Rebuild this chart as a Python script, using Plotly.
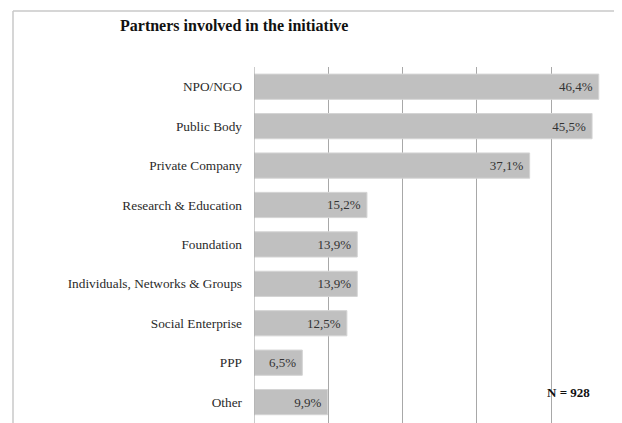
import plotly.graph_objects as go

categories = ["NPO/NGO", "Public Body", "Private Company", "Research & Education",
              "Foundation", "Individuals, Networks & Groups", "Social Enterprise", "PPP", "Other"]
values = [46.4, 45.5, 37.1, 15.2, 13.9, 13.9, 12.5, 6.5, 9.9]
labels = [f"{v:.1f}%".replace(".", ",") + "&nbsp;" for v in values]
grid_ticks = [0, 10, 20, 30, 40]

OFF = 8  # page body margin
W, H = 622 - OFF, 423 - OFF
px = lambda x: (x - OFF) / W
py = lambda y: 1 - (y - OFF) / H

serif = "Liberation Serif, Times New Roman, serif"

fig = go.Figure(go.Bar(
    x=values, y=categories, orientation="h",
    text=labels, textposition="inside", insidetextanchor="end",
    textfont=dict(family=serif, size=13, color="#333333"),
    marker=dict(color="#c0c0c0", line=dict(color="#d4d4d4", width=1)),
    width=0.64, cliponaxis=False,
))

fig.update_layout(
    width=W, height=H,
    margin=dict(l=0, r=0, t=0, b=0),
    paper_bgcolor="white", plot_bgcolor="white",
    showlegend=False,
    xaxis=dict(domain=[px(254), 1], range=[0, (622 - 254) / 7.43],
               tickvals=grid_ticks, showticklabels=False, showgrid=True,
               gridcolor="#a8a8a8", gridwidth=1, zeroline=False, showline=False),
    yaxis=dict(domain=[0, py(67)], range=[8.5 + 0.03, -0.5],
               tickfont=dict(family=serif, size=13.3, color="#2a2a2a"),
               ticklabelstandoff=11, showgrid=False, zeroline=False, showline=False),
    font=dict(family=serif),
)

# Axis line at zero
fig.add_shape(type="line", xref="x", yref="paper", x0=0, x1=0, y0=0, y1=py(67),
              line=dict(color="#a8a8a8", width=1.2))

# frame
fig.add_shape(type="line", xref="paper", yref="paper", x0=px(13), x1=px(13), y0=0, y1=py(11),
              line=dict(color="#c8c8c8", width=1.5))
fig.add_shape(type="line", xref="paper", yref="paper", x0=px(13), x1=1, y0=py(11), y1=py(11),
              line=dict(color="#c8c8c8", width=1.5))

fig.add_annotation(text="<b>Partners involved in the initiative</b>", xref="paper", yref="paper",
                   x=px(118), y=py(25), xanchor="left", yanchor="middle", showarrow=False,
                   font=dict(family=serif, size=16, color="#111111"))
fig.add_annotation(text="<b>N = 928</b>", xref="paper", yref="paper",
                   x=px(545), y=py(392), xanchor="left", yanchor="middle", showarrow=False,
                   font=dict(family=serif, size=13, color="#111111"))

fig.write_html("out.html")
